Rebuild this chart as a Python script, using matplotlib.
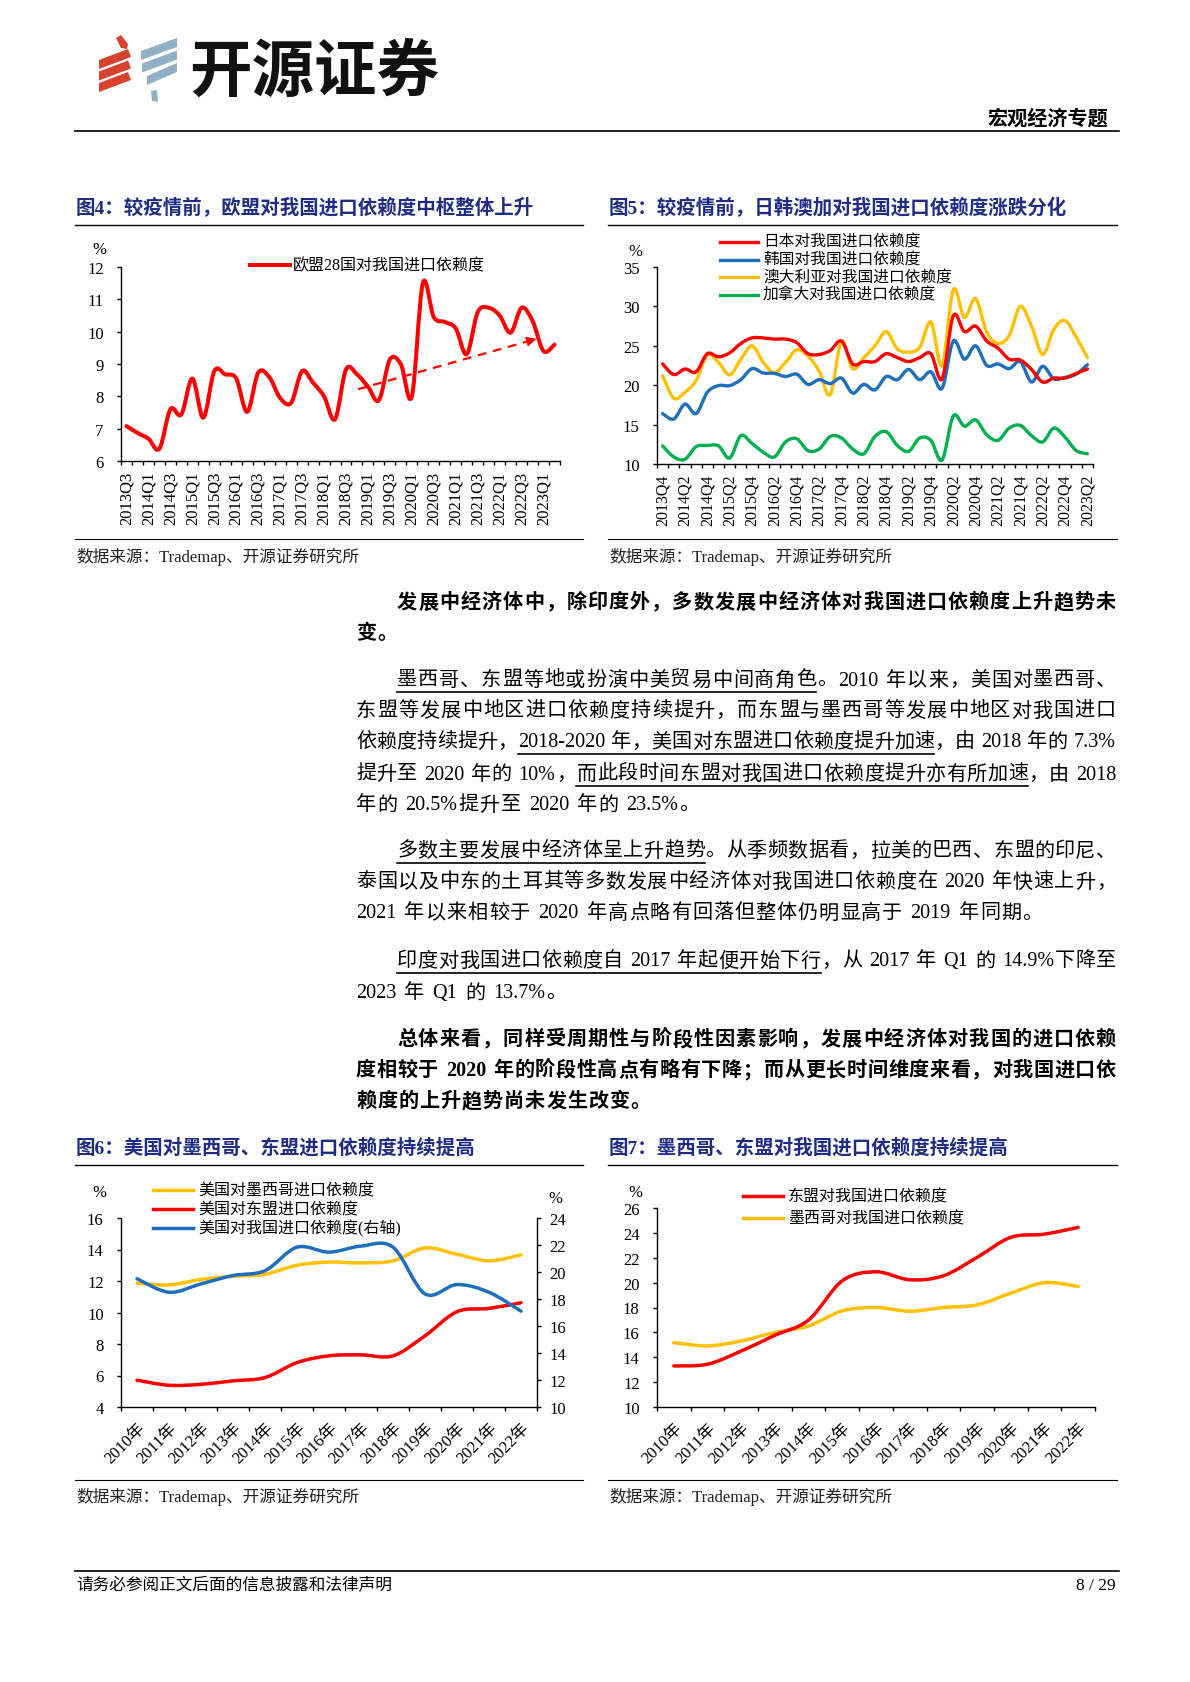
import re

import numpy as np
import matplotlib
matplotlib.use('Agg')
import matplotlib.pyplot as plt
from matplotlib.lines import Line2D
from matplotlib.patches import Polygon, PathPatch
from matplotlib.path import Path

plt.rcParams['font.family'] = ['Liberation Serif', 'Noto Sans CJK SC']
plt.rcParams['axes.unicode_minus'] = False

# ---- data -------------------------------------------------------------
eu_quarters = [f'{y}Q{q}' for y in range(2013, 2024) for q in range(1, 5)][2:42]
eu_values = [7.08, 6.87, 6.69, 6.38, 7.6, 7.44, 8.55, 7.34, 8.78, 8.68,
             8.55, 7.52, 8.73, 8.6, 7.95, 7.8, 8.78, 8.42, 8.0, 7.29,
             8.83, 8.68, 8.3, 7.88, 9.14, 8.99, 8.0, 11.5, 10.45, 10.3,
             10.1, 9.3, 10.6, 10.74, 10.5, 9.97, 10.74, 10.33, 9.4, 9.6]
eu_label = '欧盟28国对我国进口依赖度'
trend_x = [21.6, 38.1]
trend_y = [8.22, 9.8]

jk_quarters = [f'{y}Q{q}' for y in range(2013, 2024) for q in range(1, 5)][3:42]
japan = [22.7, 21.35, 22.05, 21.7, 24.0, 23.6, 24.1, 25.3, 26.0, 26.0,
         25.85, 25.85, 25.4, 24.0, 23.9, 24.4, 25.6, 22.7, 23.0, 23.0,
         24.0, 23.5, 23.0, 23.5, 24.0, 20.8, 28.8, 26.8, 27.5, 25.6,
         24.7, 23.3, 23.2, 22.0, 20.4, 20.9, 20.9, 21.5, 22.05]
korea = [16.4, 15.7, 17.6, 16.4, 19.1, 19.95, 19.95, 20.7, 22.1, 21.55,
         21.5, 21.1, 21.4, 20.1, 20.7, 20.2, 20.9, 19.0, 20.1, 19.4,
         21.1, 20.7, 22.0, 20.7, 21.7, 19.6, 25.6, 23.3, 25.0, 22.5,
         22.7, 22.1, 23.0, 20.4, 22.4, 20.8, 21.0, 21.4, 22.6]
australia = [21.2, 18.35, 19.1, 20.6, 23.8, 22.9, 21.3, 23.3, 25.0, 22.9,
             21.6, 22.9, 24.5, 23.7, 21.8, 18.8, 25.6, 22.1, 23.5, 25.0,
             26.8, 24.6, 24.2, 24.8, 28.0, 22.5, 32.1, 28.6, 31.0, 26.7,
             25.3, 26.3, 30.0, 27.5, 23.9, 27.1, 28.2, 26.1, 23.5]
canada = [12.3, 10.9, 10.6, 12.2, 12.35, 12.3, 10.75, 13.6, 12.6, 11.5,
          10.9, 12.8, 13.2, 11.7, 11.9, 13.5, 13.3, 11.9, 11.3, 13.5,
          14.1, 12.35, 11.6, 13.3, 13.0, 10.5, 16.1, 14.8, 15.6, 13.7,
          13.0, 14.55, 14.9, 13.6, 12.8, 14.55, 13.4, 11.7, 11.3]
jk_labels = ['日本对我国进口依赖度', '韩国对我国进口依赖度',
             '澳大利亚对我国进口依赖度', '加拿大对我国进口依赖度']

years = ['2010年', '2011年', '2012年', '2013年', '2014年', '2015年', '2016年',
         '2017年', '2018年', '2019年', '2020年', '2021年', '2022年']
us_mexico = [11.86, 11.75, 12.1, 12.3, 12.43, 13.0, 13.2, 13.15, 13.28, 14.1,
             13.7, 13.28, 13.66]
us_asean = [5.7, 5.38, 5.44, 5.66, 5.87, 6.82, 7.25, 7.31, 7.25, 8.52,
            10.05, 10.26, 10.62]
us_china = [19.5, 18.5, 19.12, 19.74, 20.1, 21.84, 21.47, 21.92, 21.84, 18.38,
            19.07, 18.5, 17.1]
us_labels = ['美国对墨西哥进口依赖度', '美国对东盟进口依赖度', '美国对我国进口依赖度(右轴)']

asean_cn = [13.3, 13.44, 14.5, 15.77, 17.0, 20.15, 20.87, 20.23, 20.55, 22.03,
            23.64, 23.9, 24.44]
mexico_cn = [15.18, 14.91, 15.31, 15.99, 16.52, 17.73, 18.0, 17.7, 18.0, 18.21,
             19.15, 20.0, 19.69]
cn_labels = ['东盟对我国进口依赖度', '墨西哥对我国进口依赖度']

RED = '#FF0000'
BLUE = '#1E6EBE'
YELLOW = '#FFC000'
GREEN = '#00B050'
NAVY = '#1F2C84'

W, H = 1190, 1683
fig = plt.figure(figsize=(W / 100, H / 100), dpi=100)
renderer = fig.canvas.get_renderer()


def fx(x):
    return x / W


def fy(y):
    return 1 - y / H


def hline(x0, x1, y, lw=1.0, color='black'):
    fig.add_artist(Line2D([fx(x0), fx(x1)], [fy(y), fy(y)], transform=fig.transFigure,
                          color=color, lw=lw))


def add_axes(l, t, r, b):
    return fig.add_axes([fx(l), fy(b), (r - l) / W, (b - t) / H])


def smooth_line(ax, xs, ys, color, lw):
    # catmull-rom as bezier segments, like excel's smoothed line
    pts = np.column_stack([xs, ys]).astype(float)
    n = len(pts)
    verts = [pts[0]]
    codes = [Path.MOVETO]
    for i in range(n - 1):
        p0 = pts[i - 1] if i > 0 else pts[i]
        p1, p2 = pts[i], pts[i + 1]
        p3 = pts[i + 2] if i + 2 < n else pts[i + 1]
        verts += [p1 + (p2 - p0) / 6, p2 - (p3 - p1) / 6, p2]
        codes += [Path.CURVE4] * 3
    ax.add_patch(PathPatch(Path(verts, codes), fill=False, edgecolor=color, lw=lw,
                           capstyle='round', joinstyle='round', clip_on=False))


def style_axes(ax, right=False):
    for s in ['top', 'right', 'left', 'bottom']:
        ax.spines[s].set_visible(False)
    ax.spines['bottom'].set_visible(True)
    ax.spines['right' if right else 'left'].set_visible(True)
    for s in ax.spines.values():
        s.set_linewidth(1.0)
    ax.patch.set_alpha(0)
    ax.tick_params(direction='out', length=3, width=1.0, colors='black', labelsize=12)


def cat_axis(ax, n, labels, step, rot, fs, pad):
    ax.set_xlim(0, n)
    ax.set_xticks(np.arange(n + 1))
    ax.set_xticklabels([])
    pos = np.arange(0, n, step)
    ax.set_xticks(pos + 0.5, minor=True)
    ax.set_xticklabels([labels[i] for i in pos], minor=True, fontsize=fs, rotation=rot)
    ax.tick_params(axis='x', which='minor', length=0, pad=pad)
    if rot == 45:
        for lbl in ax.get_xticklabels(minor=True):
            lbl.set_ha('right')
            lbl.set_rotation_mode('anchor')


def legend_item(x0, x1, y, color, lw, label, tx, fs=11.5):
    hline(x0, x1, y, lw=lw, color=color)
    fig.text(fx(tx), fy(y), label, fontsize=fs, va='center', ha='left')


def chart_frame(x0, x1, ty, title, by, sy):
    fig.text(fx(x0 + 1), fy(ty), title, fontsize=14, weight='bold', color=NAVY,
             va='center', ha='left')
    hline(x0, x1, ty + 18, lw=1.0)
    hline(x0, x1, by, lw=0.8)
    fig.text(fx(x0 + 1), fy(sy), '数据来源：Trademap、开源证券研究所', fontsize=12,
             va='center', ha='left', color='#222222')


# ---- header -------------------------------------------------------------
def poly(pts, color):
    fig.add_artist(Polygon([(fx(x), fy(y)) for x, y in pts], closed=True,
                           transform=fig.transFigure, facecolor=color, edgecolor='none'))


for k in range(3):
    d = 11.5 * k
    poly([(99, 61 + d), (128, 50 + d), (131, 58 + d), (99, 70 + d)], '#D8432F')
poly([(116, 39), (121, 36), (128, 45), (127, 50), (121, 49)], '#D8432F')
for k, xl in enumerate([141, 142, 147]):
    d = 12.5 * k
    poly([(xl, 52 + d), (177, 39 + d), (177, 48 + d), (xl, 61 + d)], '#8FB1C3')
poly([(151, 92), (157, 91), (158, 103), (152, 102)], '#8FB1C3')
fig.text(fx(189), fy(72), '开源证券', fontsize=45, weight='bold', family='Noto Sans CJK SC',
         va='center', ha='left', color='#111111')
fig.text(fx(1108), fy(120), '宏观经济专题', fontsize=14.5, weight='bold', va='center', ha='right')
hline(75, 1119, 132, lw=1.2)

# ---- figure 4 -----------------------------------------------------------
chart_frame(75, 583, 208, '图4：较疫情前，欧盟对我国进口依赖度中枢整体上升', 540, 557)
ax4 = add_axes(121, 268, 560, 462)
style_axes(ax4)
ax4.set_ylim(6, 12)
ax4.set_yticks(range(6, 13))
ax4.tick_params(axis='y', pad=9.5)
cat_axis(ax4, len(eu_values), eu_quarters, 2, 90, 12, 7)
smooth_line(ax4, np.arange(len(eu_values)) + 0.5, eu_values, RED, 2.9)
ax4.plot(trend_x, trend_y, ls=(0, (4, 3)), color=RED, lw=1.6)
ax4.annotate('', xy=(trend_x[1], trend_y[1]),
             xytext=(trend_x[1] - 0.8, trend_y[1] - 0.075),
             arrowprops=dict(arrowstyle='-|>', color=RED, lw=1.2, mutation_scale=14))
fig.text(fx(99), fy(250), '%', fontsize=12, ha='center', va='center')
legend_item(250, 290, 266, RED, 2.9, eu_label, 293)

# ---- figure 5 -----------------------------------------------------------
chart_frame(608, 1117, 208, '图5：较疫情前，日韩澳加对我国进口依赖度涨跌分化', 540, 557)
ax5 = add_axes(657, 268, 1093, 465)
style_axes(ax5)
ax5.set_ylim(10, 35)
ax5.set_yticks(range(10, 36, 5))
ax5.tick_params(axis='y', pad=9.5)
cat_axis(ax5, len(japan), jk_quarters, 2, 90, 11.5, 7)
x5 = np.arange(len(japan)) + 0.5
for vals, col in zip([australia, canada, korea, japan], [YELLOW, GREEN, BLUE, RED]):
    smooth_line(ax5, x5, vals, col, 2.4)
fig.text(fx(635), fy(252), '%', fontsize=12, ha='center', va='center')
for i, (lab, col) in enumerate(zip(jk_labels, [RED, BLUE, YELLOW, GREEN])):
    legend_item(720, 758, 243 + 17.6 * i, col, 2.4, lab, 763, fs=11.3)

# ---- figure 6 -----------------------------------------------------------
chart_frame(75, 583, 1148, '图6：美国对墨西哥、东盟进口依赖度持续提高', 1481, 1497)
ax6 = add_axes(121, 1219, 537, 1408)
style_axes(ax6)
ax6.set_ylim(4, 16)
ax6.set_yticks(range(4, 17, 2))
ax6.tick_params(axis='y', pad=9.5)
cat_axis(ax6, len(years), years, 1, 45, 12, 9)
x6 = np.arange(len(years)) + 0.5
smooth_line(ax6, x6, us_mexico, YELLOW, 2.5)
smooth_line(ax6, x6, us_asean, RED, 2.5)
ax6r = ax6.twinx()
style_axes(ax6r, right=True)
ax6r.spines['bottom'].set_visible(False)
ax6r.set_ylim(10, 24)
ax6r.set_yticks(range(10, 25, 2))
ax6r.tick_params(axis='y', pad=6)
smooth_line(ax6r, x6, us_china, BLUE, 2.5)
fig.text(fx(99), fy(1193), '%', fontsize=12, ha='center', va='center')
fig.text(fx(555), fy(1199), '%', fontsize=12, ha='center', va='center')
for i, (lab, col) in enumerate(zip(us_labels, [YELLOW, RED, BLUE])):
    legend_item(153, 193, 1191 + 19 * i, col, 2.5, lab, 198)

# ---- figure 7 -----------------------------------------------------------
chart_frame(608, 1117, 1148, '图7：墨西哥、东盟对我国进口依赖度持续提高', 1481, 1497)
ax7 = add_axes(657, 1209, 1095, 1408)
style_axes(ax7)
ax7.set_ylim(10, 26)
ax7.set_yticks(range(10, 27, 2))
ax7.tick_params(axis='y', pad=9.5)
cat_axis(ax7, len(years), years, 1, 45, 12, 9)
x7 = np.arange(len(years)) + 0.5
smooth_line(ax7, x7, mexico_cn, YELLOW, 2.5)
smooth_line(ax7, x7, asean_cn, RED, 2.5)
fig.text(fx(635), fy(1193), '%', fontsize=12, ha='center', va='center')
for i, (lab, col) in enumerate(zip(cn_labels, [RED, YELLOW])):
    legend_item(743, 783, 1197 + 22 * i, col, 2.5, lab, 788)

# ---- body text ----------------------------------------------------------
BODY_FS = 14.5
TOKEN = re.compile(r'[A-Za-z0-9.%\-]+|.')
body = [
    (603, 397, [('发展中经济体中，除印度外，多数发展中经济体对我国进口依赖度上升趋势未', 0)], True, True),
    (634, 356, [('变。', 0)], True, False),
    (681, 397, [('墨西哥、东盟等地或扮演中美贸易中间商角色', 1), ('。2010 年以来，美国对墨西哥、', 0)], False, True),
    (712, 356, [('东盟等发展中地区进口依赖度持续提升，而东盟与墨西哥等发展中地区对我国进口', 0)], False, True),
    (743, 356, [('依赖度持续提升，', 0), ('2018-2020 年，美国对东盟进口依赖度提升加速', 1),
                ('，由 2018 年的 7.3%', 0)], False, True),
    (775, 356, [('提升至 2020 年的 10%，', 0), ('而此段时间东盟对我国进口依赖度提升亦有所加速', 1),
                ('，由 2018', 0)], False, True),
    (806, 356, [('年的 20.5%提升至 2020 年的 23.5%。', 0)], False, False),
    (852, 397, [('多数主要发展中经济体呈上升趋势', 1), ('。从季频数据看，拉美的巴西、东盟的印尼、', 0)], False, True),
    (883, 356, [('泰国以及中东的土耳其等多数发展中经济体对我国进口依赖度在 2020 年快速上升，', 0)], False, True),
    (914, 356, [('2021 年以来相较于 2020 年高点略有回落但整体仍明显高于 2019 年同期。', 0)], False, False),
    (962, 397, [('印度对我国进口依赖度自 2017 年起便开始下行', 1), ('，从 2017 年 Q1 的 14.9%下降至', 0)], False, True),
    (994, 356, [('2023 年 Q1 的 13.7%。', 0)], False, False),
    (1040, 397, [('总体来看，同样受周期性与阶段性因素影响，发展中经济体对我国的进口依赖', 0)], True, True),
    (1071, 356, [('度相较于 2020 年的阶段性高点有略有下降；而从更长时间维度来看，对我国进口依', 0)], True, True),
    (1102, 356, [('赖度的上升趋势尚未发生改变。', 0)], True, False),
]
RIGHT = 1116
space_w = BODY_FS * 100 / 72 * 0.3

for y, x0, segs, bold, justify in body:
    toks = []
    for si, (s, u) in enumerate(segs):
        for t in TOKEN.findall(s):
            toks.append((t, si))
    arts, widths = [], []
    for t, si in toks:
        if t == ' ':
            arts.append(None)
            widths.append(space_w)
            continue
        a = fig.text(0, fy(y), t, fontsize=BODY_FS, weight='bold' if bold else 'normal',
                     va='center', ha='left', color='black')
        arts.append(a)
        widths.append(a.get_window_extent(renderer).width)
    if justify and len(toks) > 1:
        gap = (RIGHT - x0 - sum(widths)) / (len(toks) - 1)
    else:
        gap = 1.0
    x = x0
    spans = {}
    for (t, si), a, w in zip(toks, arts, widths):
        if a is not None:
            a.set_x(fx(x))
        lo, hi = spans.get(si, (x, x))
        spans[si] = (min(lo, x), x + w)
        x += w + gap
    for si, (s, u) in enumerate(segs):
        if u:
            hline(spans[si][0], spans[si][1], y + 12, lw=1.2)

# ---- footer -------------------------------------------------------------
hline(75, 1119, 1572, lw=1.2)
fig.text(fx(76), fy(1586), '请务必参阅正文后面的信息披露和法律声明', fontsize=12, va='center', ha='left')
fig.text(fx(1116), fy(1586), '8 / 29', fontsize=12.5, va='center', ha='right')

fig.savefig('out.png', dpi=100)
